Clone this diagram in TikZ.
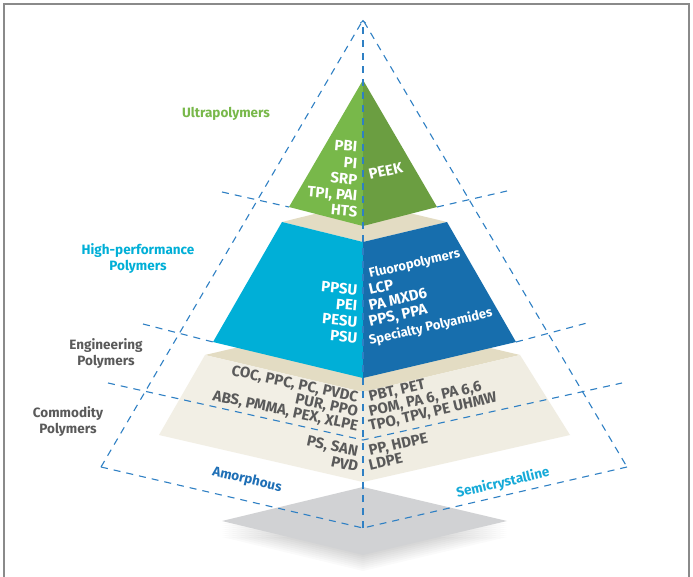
\documentclass[tikz,border=0pt]{standalone}
\usepackage{fontspec}
\setmainfont{Fira Sans}
\usepackage{tikz}
\usetikzlibrary{arrows}

\definecolor{greenL}{HTML}{78B84A}
\definecolor{greenR}{HTML}{6B9E41}
\definecolor{blueL}{HTML}{00AFD7}
\definecolor{blueR}{HTML}{176EAD}
\definecolor{sand}{HTML}{E3DCC3}
\definecolor{creamL}{HTML}{F2EFE5}
\definecolor{creamR}{HTML}{F0EDE2}
\definecolor{floor}{HTML}{D1D2D4}
\definecolor{guideblue}{HTML}{2F80C4}
\definecolor{tiergray}{HTML}{5A5A5A}
\definecolor{framegray}{HTML}{8A8A8A}
\definecolor{amorph}{HTML}{1E6FB6}
\definecolor{semicr}{HTML}{16AAD8}

\newcommand\tierfont{\bfseries\fontsize{15}{15}\selectfont}
\newcommand\longtierfont{\bfseries\fontsize{13}{13}\selectfont}
\newcommand\labelfont{\bfseries\fontsize{13.5}{16}\selectfont}

\tikzset{
	guide/.style={draw=guideblue, line width=1.1pt, dash pattern=on 7pt off 6pt},
	onleft/.style={anchor=base east, inner sep=0pt, font=\tierfont},
	onright/.style={anchor=base west, inner sep=0pt, font=\tierfont},
	longtext/.style={font=\longtierfont},
	tierlabel/.style={font=\labelfont, align=center, inner sep=0pt}
}

\begin{document}
\begin{tikzpicture}[x=1pt, y=1pt]
	\useasboundingbox (0,0) rectangle (693,-577);
	\fill[white] (0,0) rectangle (693,-577);
	\draw[framegray, line width=1.5pt] (4,-577) -- (4,-4) -- (689,-4) -- (689,-577);

	\coordinate (top) at (363,-20);
	\coordinate (base-l) at (101,-467);
	\coordinate (base-r) at (627,-467);
	\coordinate (base-f) at (363,-528);

	\coordinate (g-top) at (363,-80);
	\coordinate (g-l) at (289,-207);
	\coordinate (g-f) at (363,-226);
	\coordinate (g-r) at (437,-207);

	\coordinate (b-tl) at (282,-222);
	\coordinate (b-tb) at (363,-202);
	\coordinate (b-tr) at (447,-222);
	\coordinate (b-tf) at (363,-242);
	\coordinate (b-bl) at (213,-342);
	\coordinate (b-bf) at (363,-378);
	\coordinate (b-br) at (516,-342);

	\coordinate (c-tl) at (205,-355);
	\coordinate (c-tb) at (363,-318);
	\coordinate (c-tr) at (520,-355);
	\coordinate (c-tf) at (363,-392);
	\coordinate (c-bl) at (159,-435);
	\coordinate (c-bf) at (363,-482);
	\coordinate (c-br) at (570,-435);

	\coordinate (f-l) at (222,-521);
	\coordinate (f-b) at (363,-487);
	\coordinate (f-r) at (507,-521);
	\coordinate (f-f) at (363,-555);

	\coordinate (lv1-l) at (222,-192);
	\coordinate (lv1-r) at (507,-191);
	\coordinate (lv2-l) at (143,-324);
	\coordinate (lv2-r) at (587,-323);
	\coordinate (lv3-l) at (108,-383);
	\coordinate (lv3-m) at (363,-440);
	\coordinate (lv3-r) at (622,-383);

	\foreach \s in {1,...,8}
		\fill[black, opacity=0.018] ([yshift=-\s*2pt]f-l) -- ([yshift=-\s*2pt]f-f) -- ([yshift=-\s*2pt]f-r) -- cycle;
	\fill[floor] (f-l) -- (f-b) -- (f-r) -- (f-f) -- cycle;

	\fill[sand] (c-tl) -- (c-tb) -- (c-tr) -- (c-tf) -- cycle;
	\fill[creamL] (c-tl) -- (c-tf) -- (c-bf) -- (c-bl) -- cycle;
	\fill[creamR] (c-tf) -- (c-tr) -- (c-br) -- (c-bf) -- cycle;

	\fill[sand] (b-tl) -- (b-tb) -- (b-tr) -- (b-tf) -- cycle;
	\fill[blueL] (b-tl) -- (b-tf) -- (b-bf) -- (b-bl) -- cycle;
	\fill[blueR] (b-tf) -- (b-tr) -- (b-br) -- (b-bf) -- cycle;

	\fill[greenL] (g-top) -- (g-f) -- (g-l) -- cycle;
	\fill[greenR] (g-top) -- (g-r) -- (g-f) -- cycle;

	\draw[guide] (base-l) -- (top) -- (base-r);
	\draw[guide] (base-l) -- (base-f) -- (base-r);
	\draw[guide] (lv1-l) -- (g-l);
	\draw[guide] (g-r) -- (lv1-r);
	\draw[guide] (lv2-l) -- (b-bl);
	\draw[guide] (b-br) -- (lv2-r);
	\draw[guide] (lv3-l) -- (lv3-m) -- (lv3-r);
	\draw[guide, arrows=->] (base-f) -- (top);

	\node[onleft, white, rotate=-5] (pbi) at (357,-152) {PBI};
	\node[onleft, white, rotate=-5] (pi) at (357,-168.5) {PI};
	\node[onleft, white, rotate=-5] (srp) at (357,-185) {SRP};
	\node[onleft, white, rotate=-5] (tpi) at (357,-201) {TPI, PAI};
	\node[onleft, white, rotate=-5] (hts) at (357,-217) {HTS};
	\node[onright, white, rotate=13] (peek) at (370,-180) {PEEK};

	\node[onleft, white, rotate=-5] (ppsu) at (357,-295) {PPSU};
	\node[onleft, white, rotate=-5] (pei) at (357,-311) {PEI};
	\node[onleft, white, rotate=-5] (pesu) at (357,-327) {PESU};
	\node[onleft, white, rotate=-5] (psu) at (357,-343) {PSU};
	\node[onright, longtext, white, rotate=13] (fluoro) at (370,-278) {Fluoropolymers};
	\node[onright, white, rotate=13] (lcp) at (370,-295) {LCP};
	\node[onright, white, rotate=13] (mxd) at (370,-311) {PA MXD6};
	\node[onright, white, rotate=13] (pps) at (370,-327) {PPS, PPA};
	\node[onright, longtext, white, rotate=13] (spa) at (370,-345) {Specialty Polyamides};

	\node[onleft, tiergray, rotate=-12] (coc) at (357,-402) {COC, PPC, PC, PVDC};
	\node[onleft, tiergray, rotate=-12] (pur) at (357,-416.5) {PUR, PPO};
	\node[onleft, tiergray, rotate=-12] (abs) at (357,-431) {ABS, PMMA, PEX, XLPE};
	\node[onleft, tiergray, rotate=-12] (ps) at (357,-456.5) {PS, SAN};
	\node[onleft, tiergray, rotate=-12] (pvd) at (357,-472) {PVD};
	\node[onright, tiergray, rotate=13] (pbt) at (370,-402) {PBT, PET};
	\node[onright, tiergray, rotate=13] (pom) at (370,-416.5) {POM, PA 6, PA 6,6};
	\node[onright, tiergray, rotate=13] (tpo) at (370,-431) {TPO, TPV, PE UHMW};
	\node[onright, tiergray, rotate=13] (pp) at (370,-456) {PP, HDPE};
	\node[onright, tiergray, rotate=13] (ldpe) at (370,-470.5) {LDPE};

	\node[tierlabel, greenL] (ultra) at (226,-114) {Ultrapolymers};
	\node[tierlabel, blueL] (highperf) at (138,-259) {High-performance\\Polymers};
	\node[tierlabel, tiergray] (eng) at (106,-354) {Engineering\\Polymers};
	\node[tierlabel, tiergray] (comm) at (68,-422) {Commodity\\Polymers};
	\node[tierlabel, amorph, rotate=-13] (amo) at (247,-480) {Amorphous};
	\node[tierlabel, semicr, rotate=13] (semi) at (503,-483) {Semicrystalline};
\end{tikzpicture}
\end{document}
